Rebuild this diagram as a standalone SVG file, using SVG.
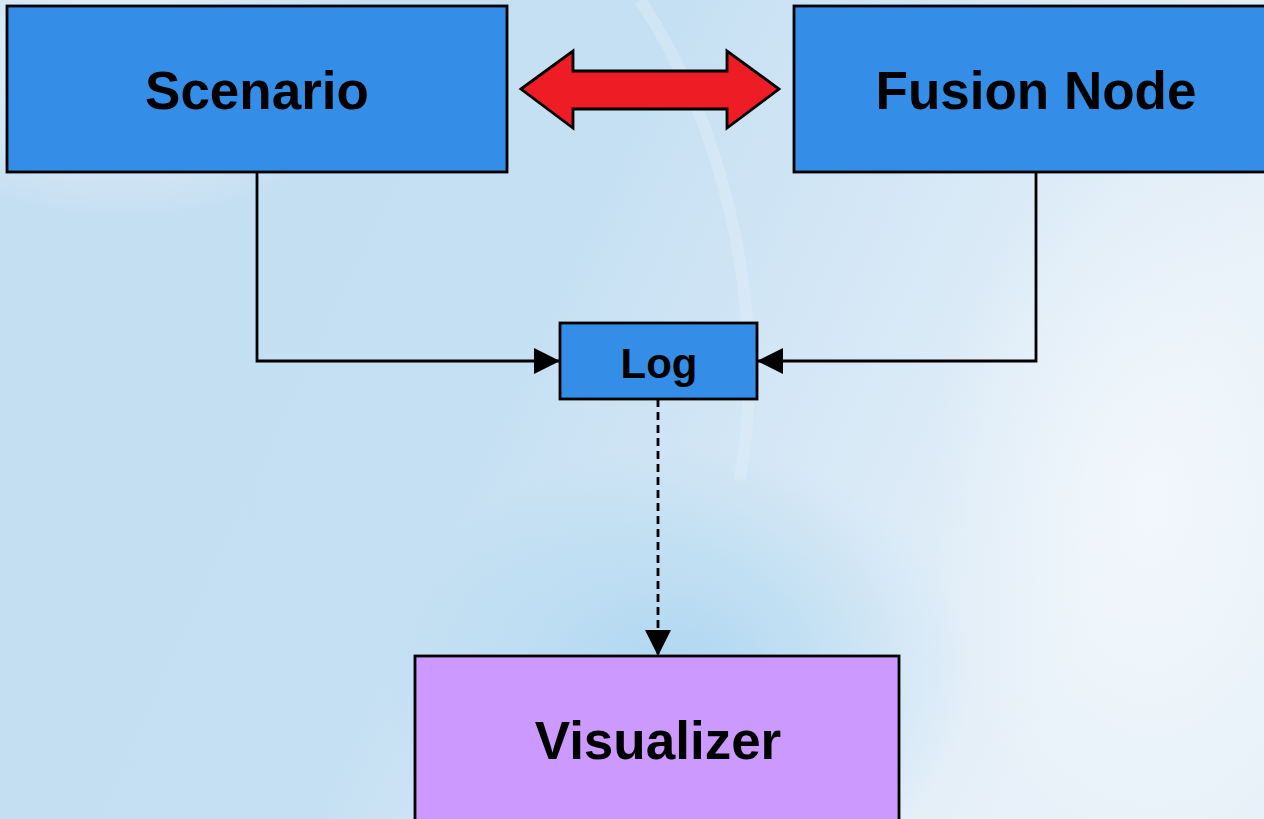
<svg xmlns="http://www.w3.org/2000/svg" width="1264" height="819" viewBox="0 0 1264 819">
<defs>
<linearGradient id="bg" x1="0" y1="0" x2="1" y2="0.3">
<stop offset="0" stop-color="#c4def2"/>
<stop offset="0.5" stop-color="#c6e0f3"/>
<stop offset="1" stop-color="#e8f1f9"/>
</linearGradient>
<radialGradient id="swirl" cx="0.52" cy="0.68" r="0.35">
<stop offset="0" stop-color="#a9d5ef" stop-opacity="0.9"/>
<stop offset="1" stop-color="#a9d5ef" stop-opacity="0"/>
</radialGradient>
<radialGradient id="hl" cx="0.5" cy="0.5" r="0.5">
<stop offset="0" stop-color="#f4f9fd" stop-opacity="0.8"/>
<stop offset="1" stop-color="#f4f9fd" stop-opacity="0"/>
</radialGradient>
<marker id="ah" viewBox="0 0 26 26" refX="26" refY="13" markerWidth="26" markerHeight="26" markerUnits="userSpaceOnUse" orient="auto">
<path d="M0,0 L26,13 L0,26 Z" fill="#000"/>
</marker>
<style>
.box{stroke:#000;stroke-width:2.8}
.blue{fill:#348ee8}
.purple{fill:#cc99ff}
.lbl{font-family:"Liberation Sans",Arial,sans-serif;font-weight:bold;fill:#000;text-anchor:middle}
.conn{fill:none;stroke:#000;stroke-width:2.8}
</style>
</defs>
<rect x="0" y="0" width="1264" height="819" fill="url(#bg)"/>
<ellipse cx="660" cy="560" rx="420" ry="330" fill="url(#swirl)"/>
<ellipse cx="120" cy="60" rx="260" ry="160" fill="url(#hl)"/>
<ellipse cx="1150" cy="500" rx="220" ry="360" fill="url(#hl)"/>
<path d="M640,0 C720,120 770,300 740,480" fill="none" stroke="#e6f1f9" stroke-width="12" opacity="0.35"/>

<g id="connectors">
<polyline class="conn" points="257,172 257,361 560,361" marker-end="url(#ah)"/>
<polyline class="conn" points="1036,172 1036,361 757,361" marker-end="url(#ah)"/>
<line class="conn" x1="658" y1="399" x2="658" y2="656" stroke-dasharray="8 5" marker-end="url(#ah)"/>
<path d="M521,89 L573,51 L573,71 L727,71 L727,51 L779,89 L727,128 L727,109 L573,109 L573,128 Z" fill="#ee1c25" stroke="#000" stroke-width="2.8" stroke-linejoin="miter"/>
</g>

<g id="scenario">
<rect class="box blue" x="7" y="6" width="500" height="166"/>
<text class="lbl" x="257" y="109" font-size="53">Scenario</text>
</g>
<g id="fusion-node">
<rect class="box blue" x="794" y="6" width="484" height="166"/>
<text class="lbl" x="1036" y="109" font-size="53">Fusion Node</text>
</g>
<g id="log">
<rect class="box blue" x="560" y="323" width="197" height="76"/>
<text class="lbl" x="659" y="378" font-size="42">Log</text>
</g>
<g id="visualizer">
<rect class="box purple" x="415" y="656" width="484" height="180"/>
<text class="lbl" x="658" y="759" font-size="53">Visualizer</text>
</g>
</svg>
